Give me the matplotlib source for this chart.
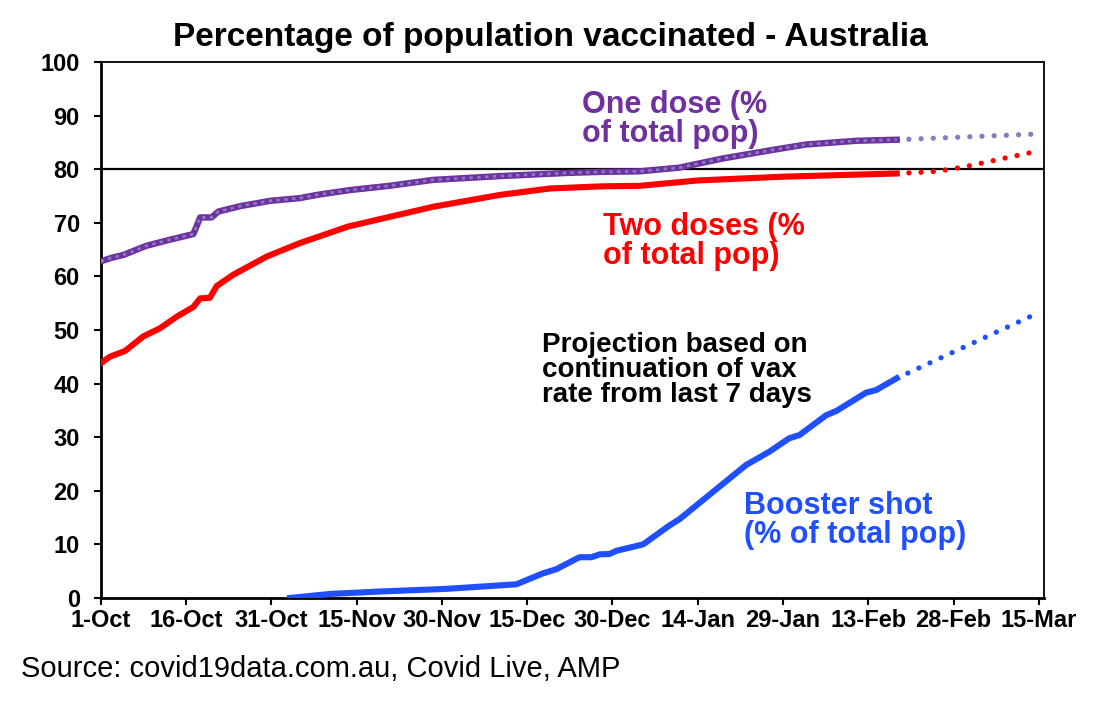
import matplotlib
matplotlib.use("Agg")
import matplotlib.pyplot as plt

plt.rcParams['font.family'] = ['Liberation Sans', 'DejaVu Sans']

# x positions are days since 1-Oct
tick_days = [0, 15, 30, 45, 60, 75, 90, 105, 120, 135, 150, 165]
tick_labels = ["1-Oct", "16-Oct", "31-Oct", "15-Nov", "30-Nov", "15-Dec",
               "30-Dec", "14-Jan", "29-Jan", "13-Feb", "28-Feb", "15-Mar"]
y_ticks = [0, 10, 20, 30, 40, 50, 60, 70, 80, 90, 100]

one_days = [0, 2, 4, 8, 12, 16.3, 17.5, 19.5, 20.7, 24.5, 29.8, 35, 38, 43.8,
            50.8, 58.4, 70, 82, 88, 94.8, 101.8, 109.4, 118.2, 124, 132.9, 140]
one_dose = [62.8, 63.5, 64.0, 65.7, 66.8, 67.9, 71.0, 71.0, 72.1, 73.1, 74.1,
            74.6, 75.2, 76.1, 76.9, 78.0, 78.7, 79.3, 79.5, 79.6, 80.3, 82.0,
            83.6, 84.6, 85.3, 85.5]
one_proj_days = [140, 165.5]
one_proj = [85.5, 86.6]

two_days = [0, 1.6, 4.3, 7.5, 10.4, 13.4, 16.3, 17.5, 19.2, 20.4, 23.3, 29.2,
            35, 43.5, 50.8, 58.5, 70.2, 79, 88, 94.8, 105, 120, 140]
two_doses = [43.8, 45.0, 46.1, 48.8, 50.3, 52.5, 54.3, 55.9, 56.0, 58.2, 60.3,
             63.7, 66.2, 69.3, 71.1, 73.0, 75.2, 76.4, 76.8, 76.9, 77.9, 78.6, 79.2]
two_proj_days = [140, 143, 147, 151.5, 155.7, 160, 165]
two_proj = [79.2, 79.35, 79.6, 80.35, 81.3, 82.3, 83.4]

boost_days = [33.3, 40.3, 49, 60.8, 73.1, 77.8, 80.1, 84.2, 86.3, 87.8, 89.5,
              90.7, 95.4, 100, 101.8, 107, 113.5, 117.6, 121.1, 122.9, 127.6,
              129.4, 134.6, 136.4, 140]
booster = [0, 0.75, 1.2, 1.7, 2.55, 4.6, 5.35, 7.6, 7.6, 8.15, 8.2, 8.8, 10.0,
           13.5, 14.7, 19.2, 24.8, 27.3, 29.8, 30.4, 34.1, 34.9, 38.3, 38.8, 41.0]
boost_proj_days = [140, 165.1]
boost_proj = [41.0, 53.3]

PURPLE = '#7030A0'
LAV = '#8080C0'
RED = '#FF0000'
BLUE = '#1F4FFF'

fig = plt.figure(figsize=(11.15, 7.03), dpi=100)
ax = fig.add_axes([0.0903, 0.1494, 0.8460, 0.7624])

ax.axhline(80, color='black', lw=1.6, zorder=2)

dot = (0, (0.01, 2.3))
ax.plot(one_proj_days, one_proj, color=LAV, lw=3.8, linestyle=dot,
        dash_capstyle='round', zorder=3)
ax.plot(two_proj_days, two_proj, color=RED, lw=3.8, linestyle=dot,
        dash_capstyle='round', zorder=3)
ax.plot(boost_proj_days, boost_proj, color=BLUE, lw=3.8, linestyle=dot,
        dash_capstyle='round', zorder=3)

ax.plot(one_days, one_dose, color=PURPLE, lw=4.6, solid_joinstyle='round', zorder=4)
ax.plot(one_days, one_dose, color=LAV, lw=2.0, linestyle=(0, (1.2, 1.6)), zorder=5)
ax.plot(two_days, two_doses, color=RED, lw=4.4, solid_joinstyle='round', zorder=4)
ax.plot(boost_days, booster, color=BLUE, lw=4.4, solid_joinstyle='round', zorder=4)

ax.set_xlim(0, 165.9)
ax.set_ylim(0, 100)
ax.set_xticks(tick_days)
ax.set_xticklabels(tick_labels, fontsize=17, fontweight='bold')
ax.set_yticks(y_ticks)
ax.set_yticklabels([str(v) for v in y_ticks], fontsize=17, fontweight='bold')
ax.tick_params(axis='both', direction='out', length=5, width=1.5, colors='black')
ax.tick_params(axis='x', pad=3)
ax.tick_params(axis='y', pad=10)
for s in ['left', 'bottom']:
    ax.spines[s].set_linewidth(2.0)
for s in ['top', 'right']:
    ax.spines[s].set_linewidth(1.3)

fig.text(0.494, 0.947, "Percentage of population vaccinated - Australia",
         ha='center', va='center', fontsize=24, fontweight='bold')

ax.text(84.6, 89.3, "One dose (%\nof total pop)", color=PURPLE, fontsize=22,
        fontweight='bold', ha='left', va='center', linespacing=0.95)
ax.text(88.3, 66.5, "Two doses (%\nof total pop)", color=RED, fontsize=22,
        fontweight='bold', ha='left', va='center', linespacing=0.95)
ax.text(77.7, 42.5, "Projection based on\ncontinuation of vax\nrate from last 7 days",
        color='black', fontsize=20, fontweight='bold', ha='left', va='center',
        linespacing=0.95)
ax.text(113.2, 14.4, "Booster shot\n(% of total pop)", color=BLUE, fontsize=22,
        fontweight='bold', ha='left', va='center', linespacing=0.95)

fig.text(0.019, 0.049, "Source: covid19data.com.au, Covid Live, AMP",
         ha='left', va='center', fontsize=21)

fig.savefig("out.png", dpi=100)
